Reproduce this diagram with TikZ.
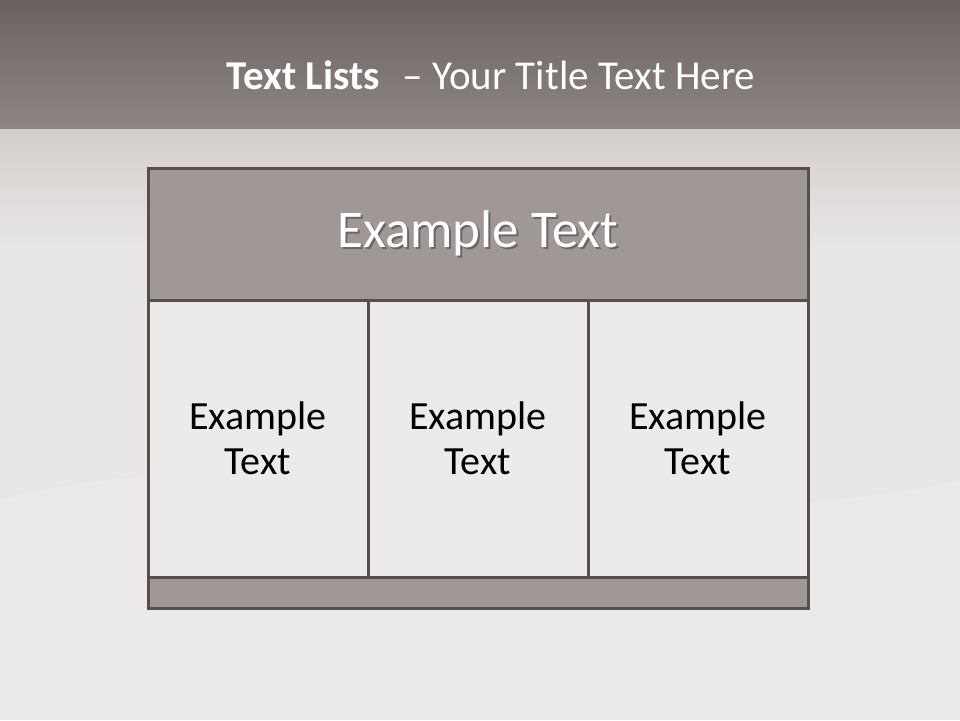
\documentclass[tikz,border=0pt]{standalone}
\usepackage{fontspec}
\setmainfont{Carlito}
\definecolor{topdark}{HTML}{6A6260}
\definecolor{topmid}{HTML}{8E8683}
\definecolor{bglight}{HTML}{E9E7E6}
\definecolor{bgmid}{HTML}{D2CECC}
\definecolor{hdrfill}{HTML}{A09896}
\definecolor{framecol}{HTML}{574F4E}
\definecolor{cellfill}{HTML}{ECEAEB}
\definecolor{txtshadow}{HTML}{6E6664}
\newcommand{\shadowtext}[1]{\makebox[0pt][l]{\hspace{2pt}\raisebox{-2pt}{\color{txtshadow}#1}}#1}
\tikzset{
  cellbox/.style={draw=framecol, line width=3pt, fill=cellfill},
  hdrbox/.style={draw=framecol, line width=3pt, fill=hdrfill},
  celltext/.style={text=black, font=\fontsize{40}{45}\selectfont, align=center},
  hdrtext/.style={text=white, font=\fontsize{53}{56}\selectfont},
}
\begin{document}
\begin{tikzpicture}[x=1pt,y=-1pt]
\useasboundingbox (0,0) rectangle (960,720);
% background
\fill[bglight] (0,128) rectangle (960,720);
\shade[top color=bgmid, bottom color=bglight] (0,128) rectangle (960,250);
\fill[white, opacity=0.12] (0,500) .. controls (300,420) and (600,560) .. (960,480) -- (960,720) -- (0,720) -- cycle;
\shade[top color=topdark, bottom color=topmid] (0,0) rectangle (960,128);
% title
\node (title) at (491,75) {\color{white}\fontsize{41}{46}\selectfont\textbf{Text Lists}\,\, – Your Title Text Here};
% table
\node[hdrbox, minimum width=660pt, minimum height=132pt, inner sep=0pt] (hdr) at (478,234) {};
\node[hdrtext] (hdrt) at (hdr.center) {\shadowtext{Example Text}};
\node[cellbox, minimum width=220pt, minimum height=277pt, inner sep=0pt] (c1) at (258,438.5) {};
\node[cellbox, minimum width=220pt, minimum height=277pt, inner sep=0pt] (c2) at (478,438.5) {};
\node[cellbox, minimum width=220pt, minimum height=277pt, inner sep=0pt] (c3) at (698,438.5) {};
\node[hdrbox, minimum width=660pt, minimum height=31pt, inner sep=0pt] (foot) at (478,592.5) {};
\node[celltext] (t1) at (c1.center) {Example\\Text};
\node[celltext] (t2) at (c2.center) {Example\\Text};
\node[celltext] (t3) at (c3.center) {Example\\Text};
\end{tikzpicture}
\end{document}
